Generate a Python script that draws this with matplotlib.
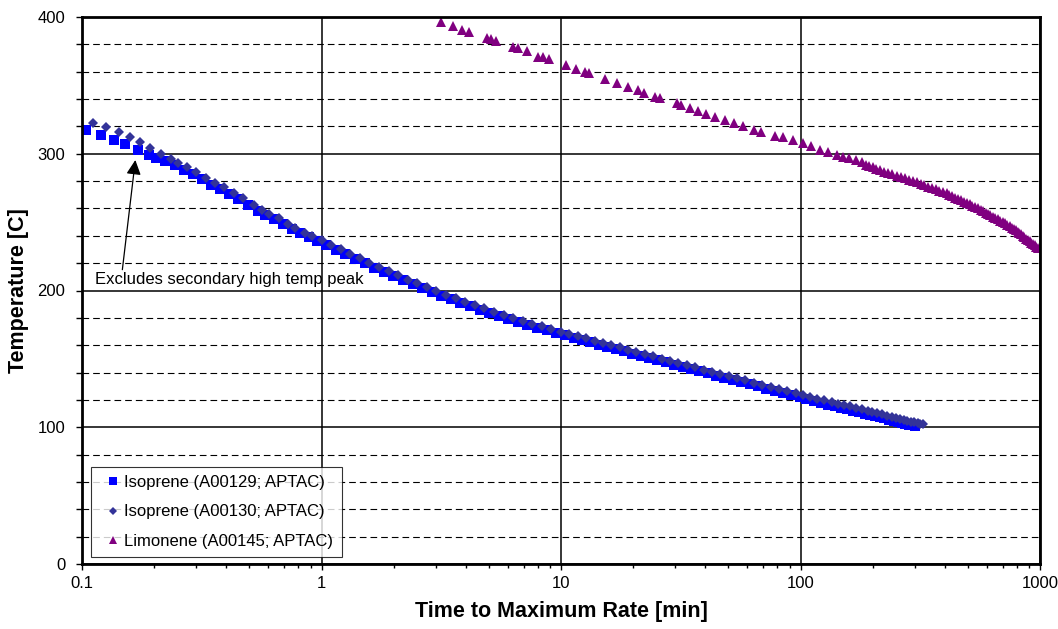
import numpy as np
import matplotlib.pyplot as plt
from matplotlib.ticker import FixedLocator, FixedFormatter, MultipleLocator, LogLocator, NullFormatter

plt.rcParams['font.family'] = ['Liberation Sans', 'DejaVu Sans']

# Isoprene (A00129; APTAC)  -- time to max rate [min], temperature [C]
iso129_t = [0.1040, 0.1199, 0.1365, 0.1517, 0.1714, 0.1901, 0.2037, 0.2228,
            0.2443, 0.2661, 0.2897, 0.3162, 0.3451, 0.3758, 0.4111, 0.4487,
            0.4943, 0.5433, 0.5834, 0.6310, 0.6918, 0.7499, 0.8166, 0.8831, 0.9594,
            1.047, 1.148, 1.259, 1.380, 1.514, 1.660, 1.820, 1.995, 2.188, 2.399,
            2.630, 2.884, 3.162, 3.467, 3.802, 4.169, 4.571, 5.012, 5.495, 6.026,
            6.607, 7.244, 7.943, 8.710, 9.550,
            10.41, 11.29, 12.23, 13.26, 14.37, 15.58, 16.89, 18.30, 19.84, 21.50,
            23.31, 25.26, 27.38, 29.68, 32.17, 34.87, 37.79, 40.97, 44.41, 48.13,
            52.17, 56.55, 61.29, 66.44, 72.01, 78.06, 84.61, 91.71, 99.42,
            105.9, 113.5, 121.6, 130.3, 138.7, 147.2, 156.0, 165.2, 175.0, 185.4,
            195.0, 204.2, 213.8, 223.9, 234.4, 245.5, 255.9, 264.9, 274.2, 283.8,
            293.8, 300.6]
iso129_T = [317.4, 313.7, 310.1, 306.9, 302.7, 299.1, 297.0, 294.5,
            291.6, 288.3, 285.2, 281.3, 277.5, 274.3, 270.7, 266.9,
            262.6, 258.4, 255.3, 252.3, 248.7, 245.3, 242.1, 239.1, 236.4,
            233.2, 229.8, 226.4, 223.1, 219.8, 216.7, 213.5, 210.5, 207.5, 204.6,
            201.7, 199.0, 196.3, 193.6, 191.0, 188.5, 186.1, 183.7, 181.4, 179.1,
            177.0, 174.9, 172.8, 170.8, 168.9,
            167.2, 165.5, 163.8, 162.1, 160.5, 158.8, 157.2, 155.5, 153.9, 152.3,
            150.6, 149.0, 147.4, 145.8, 144.2, 142.5, 141.0, 139.4, 137.8, 136.2,
            134.6, 133.0, 131.4, 129.9, 128.3, 126.8, 125.2, 123.7, 122.1,
            120.4, 119.1, 117.8, 116.6, 115.4, 114.3, 113.2, 112.1, 111.1, 110.0,
            109.0, 108.2, 107.3, 106.5, 105.6, 104.7, 104.0, 103.3, 102.7, 102.0,
            101.4, 100.9]

# Isoprene (A00130; APTAC)
iso130_t = [0.1112, 0.1259, 0.1422, 0.1581, 0.1750, 0.1928, 0.2143, 0.2360,
            0.2518, 0.2742, 0.2999, 0.3296, 0.3581, 0.3908, 0.4295, 0.4688,
            0.5212, 0.5649, 0.6026, 0.6622, 0.7244, 0.7780, 0.8551, 0.9120,
            1.000, 1.096, 1.202, 1.318, 1.445, 1.585, 1.738, 1.905, 2.089, 2.291,
            2.512, 2.754, 3.020, 3.311, 3.631, 3.981, 4.365, 4.786, 5.248, 5.754,
            6.310, 6.918, 7.586, 8.318, 9.120,
            10.00, 10.84, 11.75, 12.74, 13.80, 14.96, 16.22, 17.58, 19.05, 20.65,
            22.39, 24.27, 26.30, 28.51, 30.90, 33.50, 36.31, 39.36, 42.66, 46.24,
            50.12, 54.33, 58.88, 63.83, 69.18, 74.99, 81.28, 88.10, 95.50,
            102.3, 109.6, 117.5, 125.9, 134.9, 142.9, 151.4, 160.3, 169.8, 179.9,
            190.5, 199.5, 208.9, 218.8, 229.1, 239.9, 251.2, 260.0, 269.2, 278.6,
            288.4, 298.5, 309.0, 316.2, 323.6]
iso130_T = [322.7, 319.8, 315.7, 312.0, 308.4, 304.0, 299.8, 295.9,
            293.5, 290.1, 286.9, 282.0, 278.8, 275.4, 271.5, 267.4,
            262.5, 258.9, 255.9, 252.8, 248.6, 245.9, 242.3, 239.9,
            237.0, 233.5, 230.1, 226.7, 223.5, 220.2, 217.1, 214.0, 211.0, 208.0,
            205.2, 202.4, 199.6, 196.9, 194.3, 191.8, 189.3, 186.9, 184.5, 182.3,
            180.0, 177.9, 175.8, 173.8, 171.9,
            170.0, 168.3, 166.6, 165.0, 163.3, 161.7, 160.0, 158.4, 156.7, 155.1,
            153.4, 151.8, 150.2, 148.6, 147.0, 145.4, 143.7, 142.1, 140.6, 139.0,
            137.4, 135.8, 134.2, 132.7, 131.1, 129.5, 128.0, 126.4, 124.9,
            123.6, 122.3, 121.0, 119.7, 118.4, 117.3, 116.3, 115.2, 114.1, 113.0,
            112.0, 111.1, 110.2, 109.4, 108.5, 107.7, 106.8, 106.2, 105.5, 104.9,
            104.2, 103.6, 102.9, 102.5, 102.1]

# Limonene (A00145; APTAC)
lim_t = [3.15, 3.54, 3.87, 4.12, 4.93, 5.10, 5.35, 6.30, 6.61, 7.22,
         8.00, 8.43, 8.87, 10.5, 11.6, 12.6, 13.1, 15.3, 17.2, 19.1,
         21.0, 22.2, 24.6, 26.0, 30.4, 31.7, 34.4, 37.3, 40.4, 44.1,
         48.4, 52.8, 57.8, 63.8, 68.4, 78.5, 84.2, 92.9, 102, 111,
         121, 130, 142, 150, 160, 171, 181,
         187.5, 193.6, 200.4, 207.5, 214.3, 223.4, 232.8, 242.1, 251.8, 262.4,
         272.9, 284.4, 295.8, 306.2, 317.7, 328.9, 341.2, 353.2, 366.4, 379.3,
         393.6, 407.4, 418.8, 430.5, 442.6, 455.0, 467.7, 480.8, 494.3, 508.2,
         522.4, 537.0, 552.1, 566.2, 579.4, 592.9, 606.7, 620.9, 635.3, 650.1,
         665.3, 682.3, 698.2, 714.5, 731.1, 748.2, 765.6, 781.6, 794.3, 807.2,
         820.4, 833.7, 847.2, 861.0, 877.0, 891.3, 905.8, 920.4, 935.4, 950.6,
         966.1, 981.8]
lim_T = [396.6, 393.1, 390.5, 389.3, 384.4, 383.6, 382.7, 378.4, 377.1, 374.8,
         371.1, 370.4, 369.2, 364.9, 362.0, 359.6, 358.8, 354.4, 351.5, 348.6,
         346.6, 344.7, 341.7, 340.5, 336.9, 335.6, 333.2, 331.3, 329.1, 327.1,
         324.7, 322.2, 320.3, 317.4, 316.1, 313.0, 312.0, 309.8, 307.8, 305.5,
         303.1, 301.1, 299.4, 297.9, 296.8, 295.5, 293.8,
         292, 291, 290, 289, 288, 287, 286, 285, 284, 283,
         282, 281, 280, 279, 278, 277, 276, 275, 274, 273,
         272, 271, 270, 269, 268, 267, 266, 265, 264, 263,
         262, 261, 260, 259, 258, 257, 256, 255, 254, 253,
         252, 251, 250, 249, 248, 247, 246, 245, 244, 243,
         242, 241, 240, 239, 238, 237, 236, 235, 234, 233,
         232, 231]

x_ticks = [0.1, 1, 10, 100, 1000]
x_ticklabels = ["0.1", "1", "10", "100", "1000"]

fig = plt.figure(figsize=(10.58, 6.29), dpi=100)
ax = fig.add_axes([82/1058, 1 - 564/629, 958/1058, 547/629])

ax.plot(iso129_t, iso129_T, ls='none', marker='s', ms=6.6, color='#0000FF',
        mew=0, label='Isoprene (A00129; APTAC)', zorder=3)
ax.plot(iso130_t, iso130_T, ls='none', marker='D', ms=5.0, color='#333399',
        mew=0, label='Isoprene (A00130; APTAC)', zorder=4)
ax.plot(lim_t, lim_T, ls='none', marker='^', ms=7.0, color='#800080',
        mew=0, label='Limonene (A00145; APTAC)', zorder=3)

ax.set_xscale('log')
ax.set_xlim(0.1, 1000)
ax.set_ylim(0, 400)

ax.xaxis.set_major_locator(FixedLocator(x_ticks))
ax.xaxis.set_major_formatter(FixedFormatter(x_ticklabels))
ax.xaxis.set_minor_locator(LogLocator(base=10, subs=np.arange(2, 10)))
ax.xaxis.set_minor_formatter(NullFormatter())
ax.yaxis.set_major_locator(MultipleLocator(100))
ax.yaxis.set_minor_locator(MultipleLocator(20))

ax.tick_params(which='both', direction='out', labelsize=12, width=1.0, color='black')
ax.tick_params(axis='y', which='both', length=4, pad=8)
ax.tick_params(axis='x', which='major', length=4, pad=5)
ax.tick_params(axis='x', which='minor', length=3)

# grid: solid majors, dashed minors on y only
ax.grid(True, which='major', color='black', lw=1.1, ls='-', zorder=1)
ax.grid(True, which='minor', axis='y', color='black', lw=0.8, ls=(0, (6, 3.6)), zorder=1)
ax.set_axisbelow(True)

for s in ax.spines.values():
    s.set_linewidth(2.0)
    s.set_color('black')
    s.set_zorder(5)

ax.set_xlabel('Time to Maximum Rate [min]', fontsize=15.5, fontweight='bold')
ax.set_ylabel('Temperature [C]', fontsize=15.5, fontweight='bold')
ax.xaxis.set_label_coords(0.5, -0.068)
ax.yaxis.set_label_coords(-0.055, 0.5)

# note
ax.annotate('Excludes secondary high temp peak', xy=(0.167, 295.4), xytext=(0.1135, 207.7),
            fontsize=12, ha='left', va='center',
            arrowprops=dict(arrowstyle='-|>', color='black', lw=0.9, mutation_scale=22,
                            shrinkA=0, shrinkB=0, relpos=(0.1, 1.0)),
            zorder=6)

leg = ax.legend(loc='lower left', bbox_to_anchor=(0.0094, 0.0128), fontsize=12,
                numpoints=1, markerscale=0.8, frameon=True, fancybox=False,
                edgecolor='black', borderpad=0.5, labelspacing=0.85,
                handlelength=1.6, handletextpad=-0.1, borderaxespad=0)
leg.get_frame().set_linewidth(0.8)
leg.set_zorder(7)

fig.savefig('out.png', dpi=100)
